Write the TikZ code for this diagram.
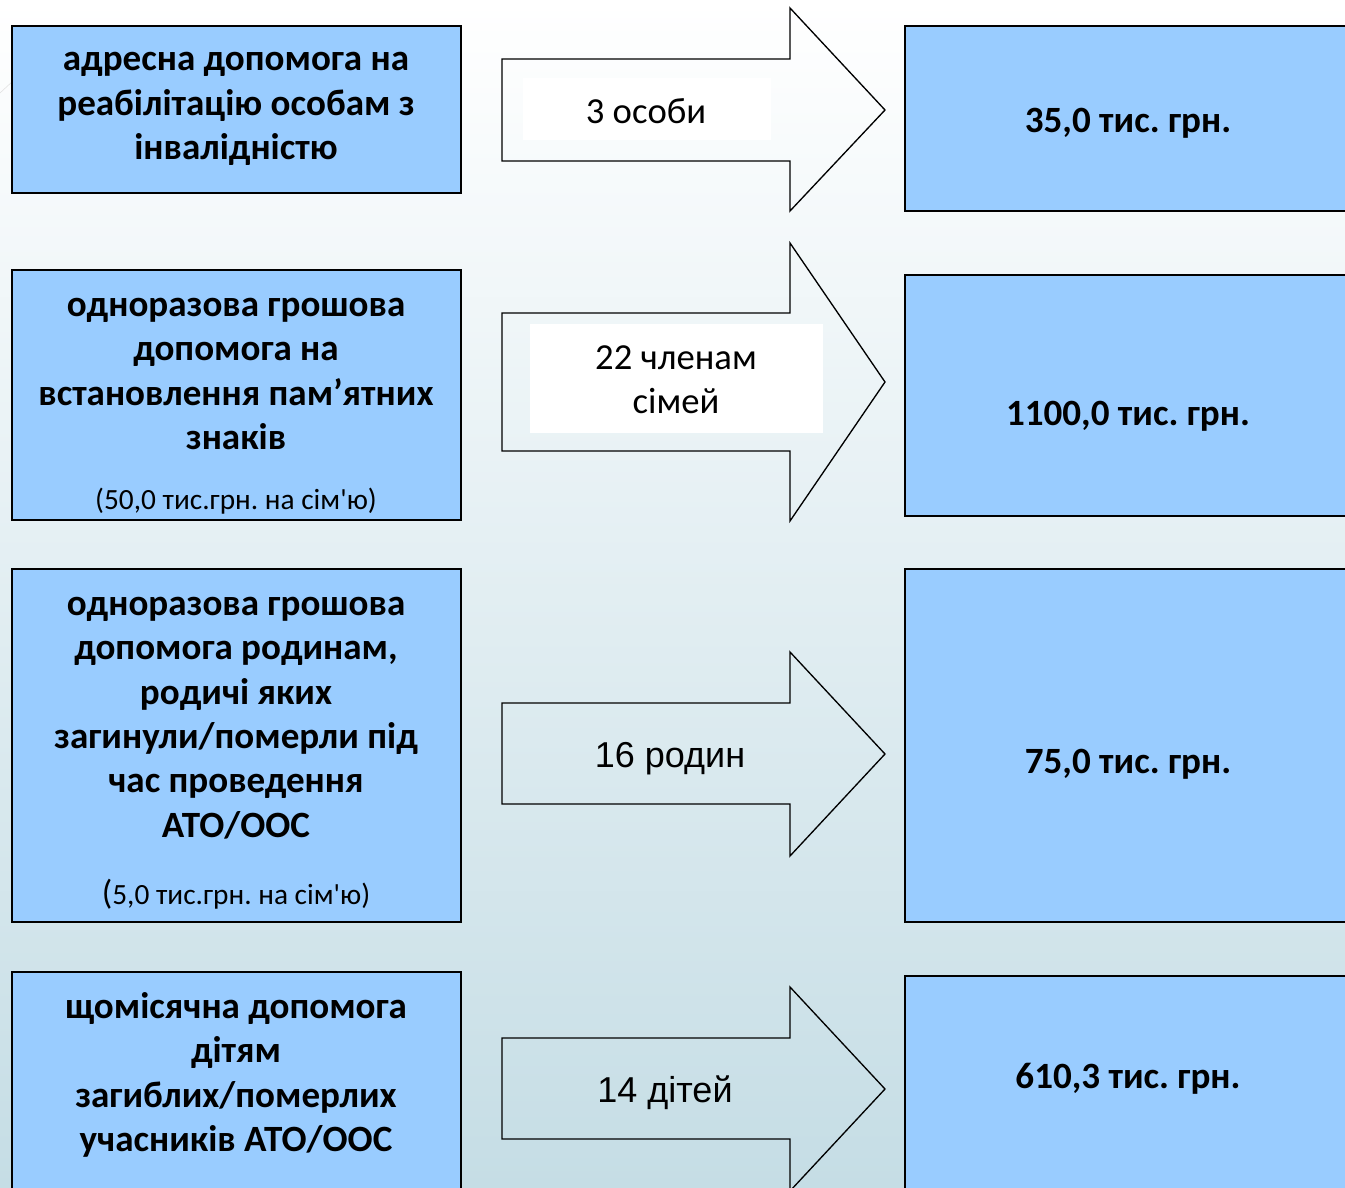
\documentclass[tikz,border=0pt]{standalone}
\usepackage{fontspec}
\setmainfont{Carlito}[Ligatures=TeXOff]
\newfontfamily\arialfont{Liberation Sans}
\definecolor{boxblue}{RGB}{153,204,255}
\definecolor{bgblue}{RGB}{197,221,229}
\frenchspacing
\tikzset{
  box/.style={draw=black, fill=boxblue, line width=1.3pt},
  blockarrow/.style={draw=black, line width=1pt, line join=miter},
  boldtxt/.style={font=\fontsize{27.8}{33.3}\selectfont\bfseries, align=center, inner sep=0pt},
  smalltxt/.style={font=\fontsize{22}{26}\selectfont, align=center, inner sep=0pt},
  plaintxt/.style={font=\fontsize{27.5}{33}\selectfont, align=center, inner sep=0pt},
  arialtxt/.style={font=\arialfont\fontsize{27}{33}\selectfont, align=center, inner sep=0pt}
}
\begin{document}
\begin{tikzpicture}[x=0.75pt,y=-0.75pt]
                \useasboundingbox (0,0) rectangle (1345,1188);
                \shade[top color=white, bottom color=bgblue] (0,0) rectangle (1345,1188); %фон
                \draw[black!12] (0,93) -- (14,80);

                % ліві блоки
                \draw[box] (12,26) rectangle (461,193);
                \draw[box] (12,270) rectangle (461,520);
                \draw[box] (12,569) rectangle (461,922);
                \draw[box] (12,972) rectangle (461,1200);
                % праві блоки
                \draw[box] (905,26) rectangle (1360,211);
                \draw[box] (905,275) rectangle (1360,516);
                \draw[box] (905,569) rectangle (1360,922);
                \draw[box] (905,976) rectangle (1360,1200);

                % стрілки: верх і низ стержня, верх і низ голови, вістря
                \foreach \st/\sb/\ht/\hb/\tp in {59/161/8/211/110, 313/451/243/521/382, 703/804/652/856/754, 1038/1139/987/1191/1089}
                  \draw[blockarrow] (502,\st) -- (790,\st) -- (790,\ht) -- (885,\tp) -- (790,\hb) -- (790,\sb) -- (502,\sb) -- cycle;
                \fill[white] (523,78) rectangle (771,140);
                \fill[white] (530,324) rectangle (823,433);

                \node[boldtxt] (l1) at (236,109) {адресна допомога на\\реабілітацію особам з\\інвалідністю};
                \node[boldtxt] (l2) at (236,374) {одноразова грошова\\допомога на\\встановлення пам’ятних\\знаків};
                \node[smalltxt] (l2n) at (236,501) {(50,0 тис.грн. на сім'ю)};
                \node[boldtxt] (l3) at (236,718) {одноразова грошова\\допомога родинам,\\родичі яких\\загинули/померли під\\час проведення\\АТО/ООС};
                \node[smalltxt] (l3n) at (236,894) {{\fontsize{26}{26}\selectfont(}5,0 тис.грн. на сім'ю)};
                \node[boldtxt] (l4) at (236,1075) {щомісячна допомога\\дітям\\загиблих/померлих\\учасників АТО/ООС};

                \node[plaintxt] (a1) at (646,111) {3 особи};
                \node[plaintxt] (a2) at (676,380) {22 членам\\сімей};
                \node[arialtxt] (a3) at (670,759) {16 родин};
                \node[arialtxt] (a4) at (665,1093) {14 дітей};

                \node[boldtxt] (r1) at (1128,123) {35,0 тис. грн.};
                \node[boldtxt] (r2) at (1128,416) {1100,0 тис. грн.};
                \node[boldtxt] (r3) at (1128,764) {75,0 тис. грн.};
                \node[boldtxt] (r4) at (1128,1079) {610,3 тис. грн.};
\end{tikzpicture}
\end{document}
